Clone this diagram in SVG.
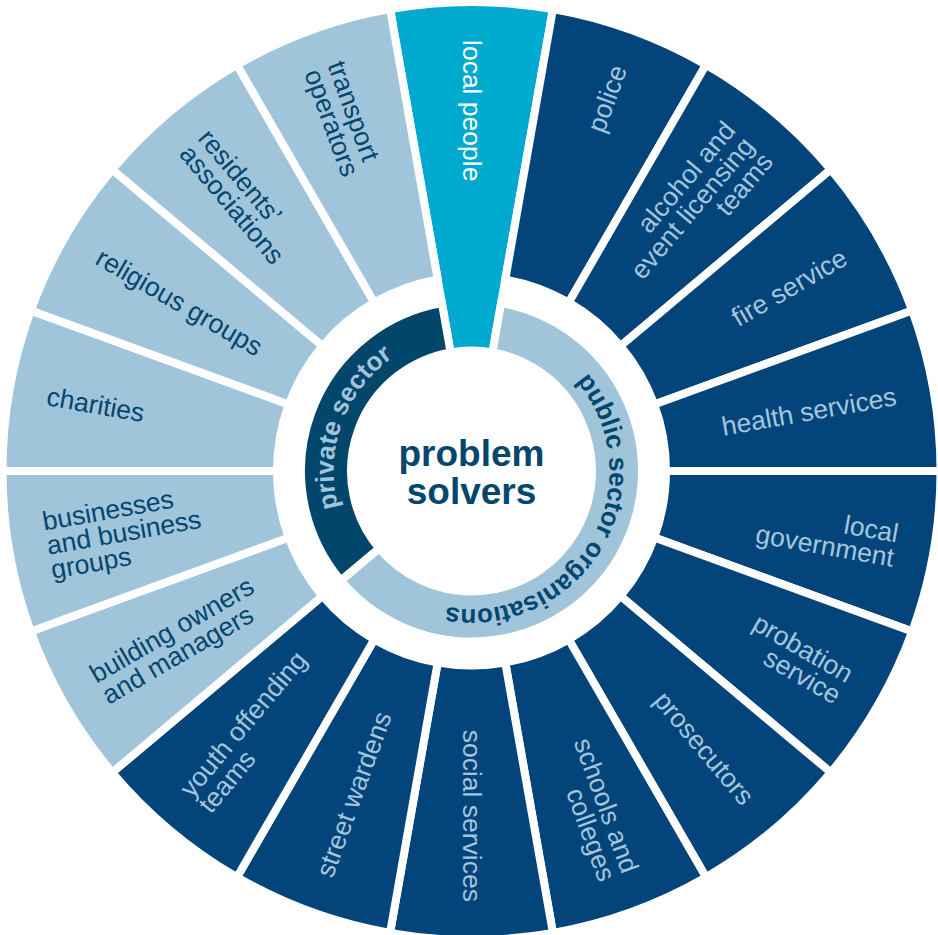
<svg xmlns="http://www.w3.org/2000/svg" xmlns:xlink="http://www.w3.org/1999/xlink" width="938" height="935" viewBox="0 0 938 935">
  <style>
    .seg { stroke: #ffffff; stroke-width: 8; stroke-linejoin: miter; }
    .dark { fill: #03457b; }
    .light { fill: #a0c4da; }
    .cyan { fill: #00a9ce; }
    .private { fill: #02466b; }
    .lbl { font-family: "Liberation Sans", Arial, Helvetica, sans-serif; font-size: 26.5px; }
    .on-dark { fill: #a3c6dc; }
    .on-light { fill: #03466e; }
    .on-cyan { fill: #ffffff; }
    .end { text-anchor: end; }
    .ring-lbl { font-family: "Liberation Sans", Arial, Helvetica, sans-serif; font-size: 26px; font-weight: bold; }
    .hub { font-family: "Liberation Sans", Arial, Helvetica, sans-serif; font-size: 37px; font-weight: bold; fill: #03476d; text-anchor: middle; }
  </style>
  <defs>
    <!-- 20 degree annular sector centred on the +x axis; the white stroke cuts the gaps -->
    <path id="wedge" d="M191.545,-33.775 L461.875,-81.441 A469,469 0 0 1 461.875,81.441 L191.545,33.775 A194.5,194.5 0 0 0 191.545,-33.775 Z"/>
    <!-- same sector reaching in to the hub -->
    <path id="wedge-long" d="M118.669,-20.925 L461.875,-81.441 A469,469 0 0 1 461.875,81.441 L118.669,20.925 A120.5,120.5 0 0 0 118.669,-20.925 Z"/>
    <!-- baselines for the curved ring titles -->
    <path id="arc-private" d="M-105.714,88.705 A138,138 0 0 1 -23.963,-135.903"/>
    <path id="arc-public" d="M23.963,-135.903 A138,138 0 1 1 -105.714,88.705"/>
  </defs>

  <rect width="938" height="935" fill="#ffffff"/>

  <!-- outer wheel: one sector per problem solver -->
  <g id="seg-local-people" transform="translate(471.5,471) rotate(-90)">
    <use xlink:href="#wedge-long" class="seg cyan"/>
    <text class="lbl on-cyan" transform="rotate(180)" x="-431" y="9">local people</text>
  </g>
  <g id="seg-police" transform="translate(471.5,471) rotate(-70)">
    <use xlink:href="#wedge" class="seg dark"/>
    <text class="lbl on-dark end" x="431" y="9">police</text>
  </g>
  <g id="seg-alcohol-licensing" transform="translate(471.5,471) rotate(-50)">
    <use xlink:href="#wedge" class="seg dark"/>
    <text class="lbl on-dark end"><tspan x="431" y="-15.5">alcohol and</tspan><tspan x="431" y="9">event licensing</tspan><tspan x="431" y="33.5">teams</tspan></text>
  </g>
  <g id="seg-fire-service" transform="translate(471.5,471) rotate(-30)">
    <use xlink:href="#wedge" class="seg dark"/>
    <text class="lbl on-dark end" x="431" y="9">fire service</text>
  </g>
  <g id="seg-health-services" transform="translate(471.5,471) rotate(-10)">
    <use xlink:href="#wedge" class="seg dark"/>
    <text class="lbl on-dark end" x="431" y="9">health services</text>
  </g>
  <g id="seg-local-government" transform="translate(471.5,471) rotate(10)">
    <use xlink:href="#wedge" class="seg dark"/>
    <text class="lbl on-dark end"><tspan x="431" y="-3.25">local</tspan><tspan x="431" y="21.25">government</tspan></text>
  </g>
  <g id="seg-probation" transform="translate(471.5,471) rotate(30)">
    <use xlink:href="#wedge" class="seg dark"/>
    <text class="lbl on-dark end"><tspan x="431" y="-3.25">probation</tspan><tspan x="431" y="21.25">service</tspan></text>
  </g>
  <g id="seg-prosecutors" transform="translate(471.5,471) rotate(50)">
    <use xlink:href="#wedge" class="seg dark"/>
    <text class="lbl on-dark end" x="431" y="9">prosecutors</text>
  </g>
  <g id="seg-schools" transform="translate(471.5,471) rotate(70)">
    <use xlink:href="#wedge" class="seg dark"/>
    <text class="lbl on-dark end"><tspan x="431" y="-3.25">schools and</tspan><tspan x="431" y="21.25">colleges</tspan></text>
  </g>
  <g id="seg-social-services" transform="translate(471.5,471) rotate(90)">
    <use xlink:href="#wedge" class="seg dark"/>
    <text class="lbl on-dark end" x="431" y="9">social services</text>
  </g>
  <g id="seg-street-wardens" transform="translate(471.5,471) rotate(110)">
    <use xlink:href="#wedge" class="seg dark"/>
    <text class="lbl on-dark" transform="rotate(180)" x="-431" y="9">street wardens</text>
  </g>
  <g id="seg-youth-offending" transform="translate(471.5,471) rotate(130)">
    <use xlink:href="#wedge" class="seg dark"/>
    <text class="lbl on-dark" transform="rotate(180)"><tspan x="-431" y="-3.25">youth offending</tspan><tspan x="-431" y="21.25">teams</tspan></text>
  </g>
  <g id="seg-building-owners" transform="translate(471.5,471) rotate(150)">
    <use xlink:href="#wedge" class="seg light"/>
    <text class="lbl on-light" transform="rotate(180)"><tspan x="-431" y="-3.25">building owners</tspan><tspan x="-431" y="21.25">and managers</tspan></text>
  </g>
  <g id="seg-businesses" transform="translate(471.5,471) rotate(170)">
    <use xlink:href="#wedge" class="seg light"/>
    <text class="lbl on-light" transform="rotate(180)"><tspan x="-431" y="-15.5">businesses</tspan><tspan x="-431" y="9">and business</tspan><tspan x="-431" y="33.5">groups</tspan></text>
  </g>
  <g id="seg-charities" transform="translate(471.5,471) rotate(190)">
    <use xlink:href="#wedge" class="seg light"/>
    <text class="lbl on-light" transform="rotate(180)" x="-431" y="9">charities</text>
  </g>
  <g id="seg-religious-groups" transform="translate(471.5,471) rotate(210)">
    <use xlink:href="#wedge" class="seg light"/>
    <text class="lbl on-light" transform="rotate(180)" x="-431" y="9">religious groups</text>
  </g>
  <g id="seg-residents" transform="translate(471.5,471) rotate(230)">
    <use xlink:href="#wedge" class="seg light"/>
    <text class="lbl on-light" transform="rotate(180)"><tspan x="-431" y="-3.25">residents’</tspan><tspan x="-431" y="21.25">associations</tspan></text>
  </g>
  <g id="seg-transport" transform="translate(471.5,471) rotate(250)">
    <use xlink:href="#wedge" class="seg light"/>
    <text class="lbl on-light" transform="rotate(180)"><tspan x="-431" y="-3.25">transport</tspan><tspan x="-431" y="21.25">operators</tspan></text>
  </g>

  <!-- inner ring: sector groupings -->
  <g id="ring-private-sector" transform="translate(471.5,471)">
    <path class="seg private" d="M-92.308,77.456 L-130.610,109.595 A170.5,170.5 0 0 1 -29.607,-167.910 L-20.925,-118.669 A120.5,120.5 0 0 0 -92.308,77.456 Z"/>
    <text class="ring-lbl" fill="#a0c4da" text-anchor="middle"><textPath xlink:href="#arc-private" startOffset="50%">private sector</textPath></text>
  </g>
  <g id="ring-public-sector" transform="translate(471.5,471)">
    <path class="seg light" d="M20.925,-118.669 L29.607,-167.910 A170.5,170.5 0 1 1 -130.610,109.595 L-92.308,77.456 A120.5,120.5 0 1 0 20.925,-118.669 Z"/>
    <text class="ring-lbl" fill="#03466e" text-anchor="middle"><textPath xlink:href="#arc-public" startOffset="50%">public sector organisations</textPath></text>
  </g>

  <!-- hub -->
  <g id="hub-problem-solvers">
    <text class="hub" x="471.5" y="466">problem</text>
    <text class="hub" x="471.5" y="503.5">solvers</text>
  </g>
</svg>
